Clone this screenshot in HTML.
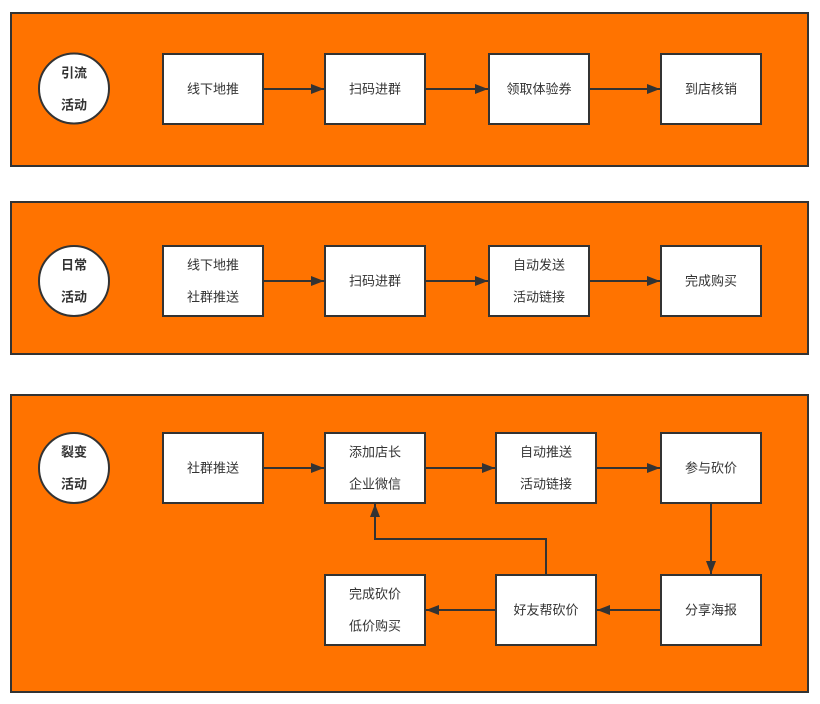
<!DOCTYPE html>
<html><head><meta charset="utf-8"><style>
html,body{margin:0;padding:0;background:#fff;}
svg{display:block;}
text{font-family:"Liberation Sans","Noto Sans CJK SC",sans-serif;font-size:13px;fill:#333;}
.c{font-weight:bold;}
</style></head><body>
<svg width="820" height="704" viewBox="0 0 820 704" xmlns="http://www.w3.org/2000/svg">
<defs>
<marker id="a" markerWidth="14" markerHeight="12" refX="13" refY="5.5" orient="auto" markerUnits="userSpaceOnUse">
<path d="M0,0.5 L13,5.5 L0,10.5 Z" fill="#333"/>
</marker>
</defs>
<g stroke="#333" stroke-width="2" fill="#FF7300">
<rect x="11" y="13" width="797" height="153"/>
<rect x="11" y="202" width="797" height="152"/>
<rect x="11" y="395" width="797" height="297"/>
</g>
<g stroke="#333" stroke-width="2" fill="#fff">
<circle cx="74" cy="88.5" r="35"/>
<circle cx="74" cy="281" r="35"/>
<circle cx="74" cy="468" r="35"/>
<rect x="163" y="54" width="100" height="70"/>
<rect x="325" y="54" width="100" height="70"/>
<rect x="489" y="54" width="100" height="70"/>
<rect x="661" y="54" width="100" height="70"/>
<rect x="163" y="246" width="100" height="70"/>
<rect x="325" y="246" width="100" height="70"/>
<rect x="489" y="246" width="100" height="70"/>
<rect x="661" y="246" width="100" height="70"/>
<rect x="163" y="433" width="100" height="70"/>
<rect x="325" y="433" width="100" height="70"/>
<rect x="496" y="433" width="100" height="70"/>
<rect x="661" y="433" width="100" height="70"/>
<rect x="325" y="575" width="100" height="70"/>
<rect x="496" y="575" width="100" height="70"/>
<rect x="661" y="575" width="100" height="70"/>
</g>
<g stroke="#333" stroke-width="2" fill="none" marker-end="url(#a)">
<line x1="263" y1="89" x2="324" y2="89"/>
<line x1="425" y1="89" x2="488" y2="89"/>
<line x1="589" y1="89" x2="660" y2="89"/>
<line x1="263" y1="281" x2="324" y2="281"/>
<line x1="425" y1="281" x2="488" y2="281"/>
<line x1="589" y1="281" x2="660" y2="281"/>
<line x1="263" y1="468" x2="324" y2="468"/>
<line x1="425" y1="468" x2="495" y2="468"/>
<line x1="596" y1="468" x2="660" y2="468"/>
<line x1="711" y1="503" x2="711" y2="574"/>
<line x1="661" y1="610" x2="597" y2="610"/>
<line x1="496" y1="610" x2="426" y2="610"/>
<polyline points="546,575 546,539 375,539 375,504"/>
</g>
<g text-anchor="middle" dominant-baseline="central">
<text class="c" x="74" y="73">引流</text>
<text class="c" x="74" y="105">活动</text>
<text class="c" x="74" y="265">日常</text>
<text class="c" x="74" y="297">活动</text>
<text class="c" x="74" y="452">裂变</text>
<text class="c" x="74" y="484">活动</text>
<text x="213" y="89">线下地推</text>
<text x="375" y="89">扫码进群</text>
<text x="539" y="89">领取体验券</text>
<text x="711" y="89">到店核销</text>
<text x="213" y="265">线下地推</text>
<text x="213" y="297">社群推送</text>
<text x="375" y="281">扫码进群</text>
<text x="539" y="265">自动发送</text>
<text x="539" y="297">活动链接</text>
<text x="711" y="281">完成购买</text>
<text x="213" y="468">社群推送</text>
<text x="375" y="452">添加店长</text>
<text x="375" y="484">企业微信</text>
<text x="546" y="452">自动推送</text>
<text x="546" y="484">活动链接</text>
<text x="711" y="468">参与砍价</text>
<text x="711" y="610">分享海报</text>
<text x="546" y="610">好友帮砍价</text>
<text x="375" y="594">完成砍价</text>
<text x="375" y="626">低价购买</text>
</g>
</svg>
</body></html>
